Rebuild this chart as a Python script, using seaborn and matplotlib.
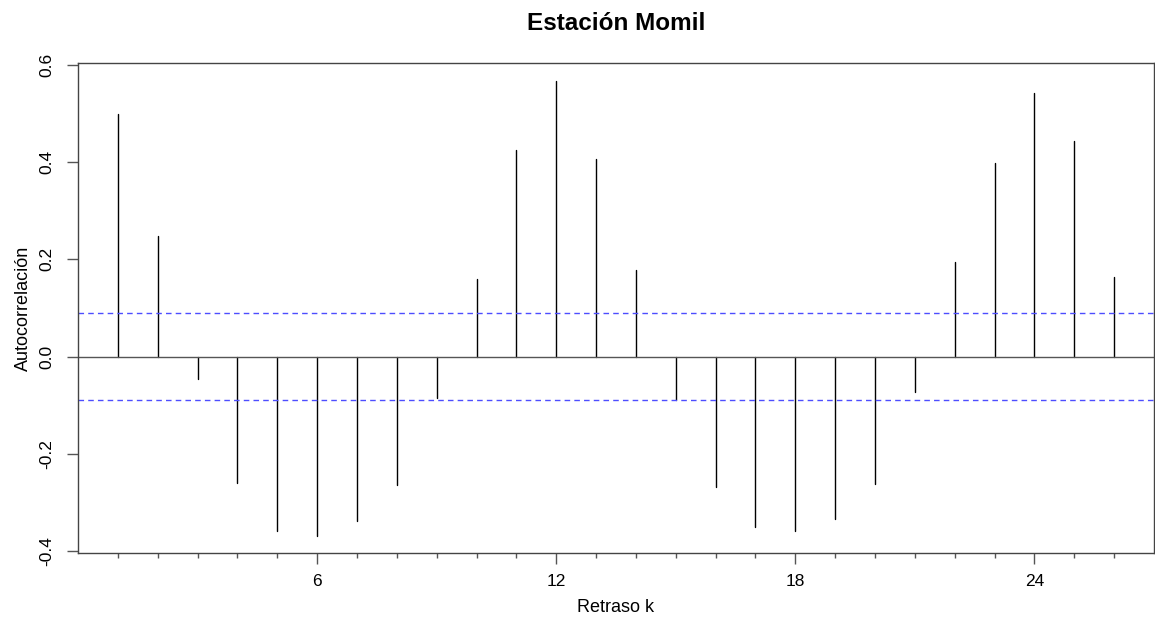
import numpy as np
import pandas as pd
import matplotlib
matplotlib.use("Agg")
import matplotlib.pyplot as plt
import seaborn as sns

# Data
lags = list(range(1, 27))
acf_values = [0.500, 0.248, -0.046, -0.260, -0.359, -0.368, -0.338, -0.265, -0.085,
              0.159, 0.426, 0.568, 0.406, 0.178, -0.090, -0.269, -0.350, -0.359,
              -0.335, -0.263, -0.072, 0.194, 0.399, 0.542, 0.443, 0.163]
conf_limit = 0.089
xtick_positions = [6, 12, 18, 24]
ytick_positions = [-0.4, -0.2, 0.0, 0.2, 0.4, 0.6]

sns.set_theme(style="white")
plt.rcParams['font.family'] = ['Liberation Sans', 'DejaVu Sans']
plt.rcParams['axes.unicode_minus'] = False
plt.rcParams['text.color'] = 'black'
plt.rcParams['axes.labelcolor'] = 'black'
plt.rcParams['xtick.color'] = 'black'
plt.rcParams['ytick.color'] = 'black'

W, H = 1155, 623
fig = plt.figure(figsize=(W / 100, H / 100), dpi=100)
ax = fig.add_axes([78 / W, 1 - 553 / H, (1154 - 78) / W, (553 - 63) / H])

# stems built as segments from zero to the value for each lag
rows = []
for k, v in zip(lags, acf_values):
    rows.append({"lag": k, "acf": 0.0, "seg": k})
    rows.append({"lag": k, "acf": v, "seg": k})
df = pd.DataFrame(rows)
sns.lineplot(data=df, x="lag", y="acf", units="seg", estimator=None, sort=False,
             color="black", lw=1.0, ax=ax, legend=False)

ax.axhline(0, color="#555555", lw=1.0)
ax.axhline(conf_limit, color=(0.3, 0.3, 1.0), lw=1.0, ls=(0, (4, 3)))
ax.axhline(-conf_limit, color=(0.3, 0.3, 1.0), lw=1.0, ls=(0, (4, 3)))

ax.set_xlim(0, 27)
ax.set_ylim(-0.404, 0.604)

ax.set_xticks(xtick_positions)
ax.set_xticklabels([str(t) for t in xtick_positions])
ax.set_xticks(lags, minor=True)
ax.set_yticks(ytick_positions)
ax.set_yticklabels([f"{t:.1f}" for t in ytick_positions], rotation=90, va="center")

ax.tick_params(axis="x", which="major", direction="out", length=8, width=1,
               color="#555555", labelsize=12.5, pad=7, bottom=True)
ax.tick_params(axis="x", which="minor", direction="out", length=3.5, width=1,
               color="#555555", bottom=True)
ax.tick_params(axis="y", which="major", direction="out", length=8, width=1,
               color="#555555", labelsize=12.5, pad=9, left=True)

for s in ax.spines.values():
    s.set_color("#444444")
    s.set_linewidth(1.0)

ax.set_xlabel("Retraso k", fontsize=13, labelpad=7)
ax.set_ylabel("Autocorrelación", fontsize=13, labelpad=5)
ax.set_title("Estación Momil", fontsize=17.5, fontweight="bold", pad=24)
ax.grid(False)

fig.savefig("out.png", dpi=100)
